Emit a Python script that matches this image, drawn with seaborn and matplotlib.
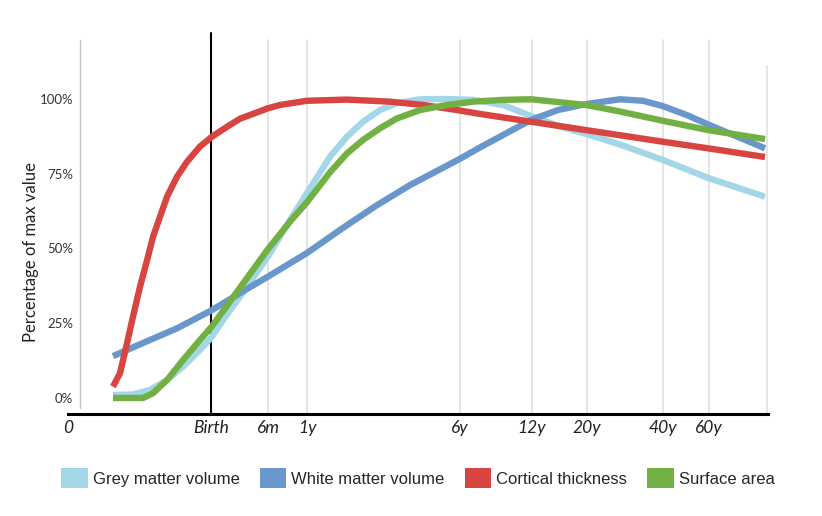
import pandas as pd
import seaborn as sns
import matplotlib.pyplot as plt
from matplotlib.patches import Patch

# positions along the (non-linear) age axis
tick_pos = [0, 143, 200, 239, 392, 464, 519, 595, 641]
tick_labels = ["0", "Birth", "6m", "1y", "6y", "12y", "20y", "40y", "60y"]
axis_end = 699

grey_x = [45, 65, 82, 99, 115, 132, 144, 155, 169, 200, 222, 239, 262, 279, 295, 312,
          329, 352, 379, 405, 435, 463, 492, 518, 552, 595, 640, 697]
grey_y = [1.0, 1.2, 2.7, 6.0, 10.5, 16.1, 20.5, 26.1, 32.5, 47.3, 59.5, 68.5, 80.7,
          87.4, 92.4, 96.3, 98.6, 99.9, 100.0, 99.7, 98.0, 94.3, 90.8, 88.3, 84.8,
          79.6, 73.6, 67.3]

white_x = [45, 75, 109, 144, 172, 200, 239, 275, 309, 342, 392, 412, 432, 463,
           490, 518, 552, 575, 595, 619, 640, 697]
white_y = [14.0, 18.4, 23.3, 29.4, 35.1, 40.6, 48.5, 56.9, 64.5, 71.2, 80.0,
           83.8, 87.4, 93.0, 96.3, 98.3, 99.9, 99.4, 97.6, 94.6, 91.5, 83.5]

cortical_x = [45, 52, 59, 65, 72, 79, 85, 92, 99, 109, 119, 132, 144, 159, 172, 200,
              212, 239, 279, 322, 355, 389, 412, 463, 518, 595, 640, 697]
cortical_y = [3.8, 8.3, 18.3, 27.2, 37.2, 46.0, 53.9, 60.6, 67.3, 74.0, 79.0, 84.1,
              87.4, 90.7, 93.4, 96.9, 98.0, 99.4, 99.8, 99.1, 98.0, 96.3, 95.0, 92.4,
              89.6, 85.7, 83.5, 80.6]

surface_x = [45, 75, 85, 99, 115, 132, 144, 169, 200, 222, 239, 262, 279, 295, 312,
             329, 352, 379, 405, 435, 463, 518, 552, 595, 640, 697]
surface_y = [0.0, 0.0, 1.6, 6.0, 12.7, 19.4, 24.0, 35.5, 49.8, 59.0, 65.5, 75.5,
             81.8, 86.3, 90.2, 93.5, 96.3, 98.0, 99.1, 99.7, 99.9, 98.0, 95.8, 92.7,
             89.6, 86.6]

names = ["Grey matter volume", "White matter volume", "Cortical thickness", "Surface area"]
colors = ["#a3d7e7", "#6a97cb", "#d8443f", "#72b043"]

df = pd.concat([
    pd.DataFrame({"pos": grey_x, "pct": grey_y, "measure": names[0]}),
    pd.DataFrame({"pos": white_x, "pct": white_y, "measure": names[1]}),
    pd.DataFrame({"pos": cortical_x, "pct": cortical_y, "measure": names[2]}),
    pd.DataFrame({"pos": surface_x, "pct": surface_y, "measure": names[3]}),
])

sns.set_style("white")
plt.rcParams["font.family"] = ["Lato", "DejaVu Sans"]

fig = plt.figure(figsize=(8.22, 5.16), dpi=100)
ax = fig.add_axes([68 / 822, 1 - 414 / 516, 700 / 822, 382 / 516])

# background guides
for p in tick_pos[2:]:
    ax.axvline(p, ymin=0, ymax=0.979, color="#e2e2e2", lw=1.3, zorder=0)
ax.axvline(axis_end, ymin=0, ymax=0.911, color="#e2e2e2", lw=1.3, zorder=0)
ax.axvline(12, ymin=0.016, ymax=0.979, color="#c4c4c4", lw=1.0, zorder=0)
ax.axvline(tick_pos[1], ymin=0, ymax=0.997, color="black", lw=1.5, zorder=1)

sns.lineplot(data=df, x="pos", y="pct", hue="measure", hue_order=names,
             palette=dict(zip(names, colors)), lw=4.6, sort=False,
             estimator=None, legend=False, ax=ax, zorder=3,
             solid_joinstyle="round", solid_capstyle="butt")

ax.set_xlim(0, 700)
ax.set_ylim(-5.35, 122.4)
for s in ["top", "right", "left"]:
    ax.spines[s].set_visible(False)
ax.spines["bottom"].set_color("black")
ax.spines["bottom"].set_linewidth(2.2)

ax.set_xticks(tick_pos)
ax.set_xticklabels(tick_labels, fontstyle="italic", fontsize=12.5, color="#222222")
ax.set_yticks([0, 25, 50, 75, 100])
ax.set_yticklabels(["0%", "25%", "50%", "75%", "100%"], fontsize=9.5, color="#333333")
ax.tick_params(axis="x", length=0, pad=4)
ax.tick_params(axis="y", length=0, pad=-3.6)
ax.set_xlabel("")
ax.set_ylabel("")
fig.text(31 / 822, 1 - 252 / 516, "Percentage of max value", rotation=90,
         ha="center", va="center", fontsize=12, color="#222222")

handles = [Patch(facecolor=c, edgecolor="none") for c in colors]
fig.legend(handles, names, loc="center", bbox_to_anchor=(418 / 822, 1 - 478 / 516),
           ncol=4, frameon=False, handlelength=1.6, handleheight=1.45,
           handletextpad=0.3, columnspacing=1.2,
           prop={"family": ["Liberation Sans", "DejaVu Sans"], "size": 12})

fig.savefig("out.png", dpi=100)
